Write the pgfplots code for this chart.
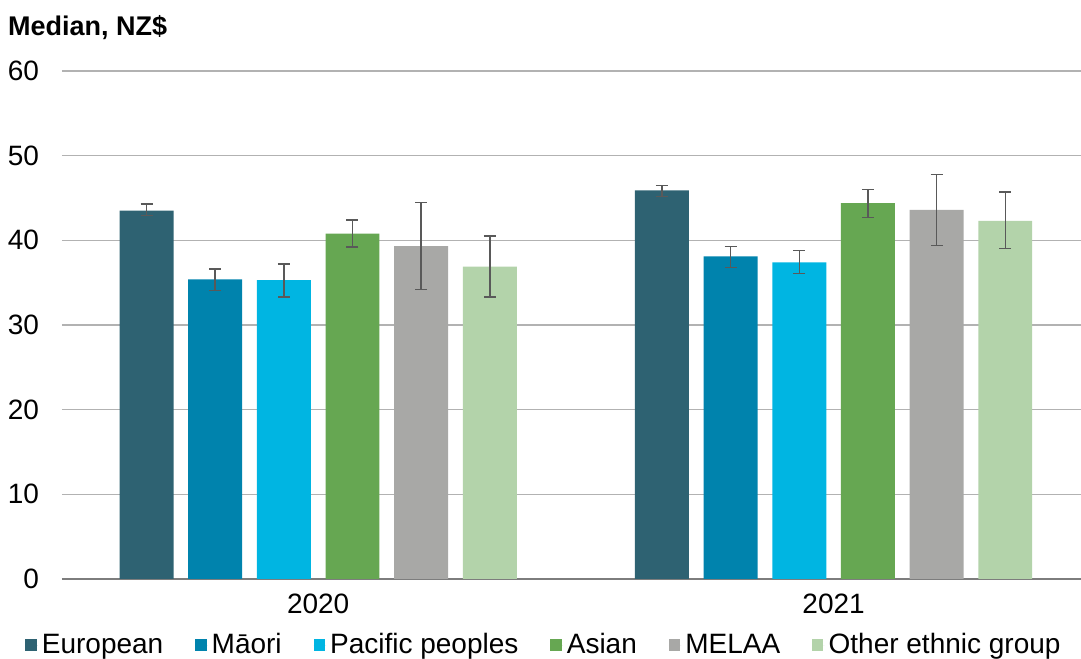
\documentclass[border=0pt]{standalone}
\usepackage{fontspec}
\setmainfont{Liberation Sans}
\usepackage{pgfplots}
\pgfplotsset{compat=1.18}
\definecolor{cEur}{RGB}{46,98,114}
\definecolor{cMao}{RGB}{0,131,173}
\definecolor{cPac}{RGB}{0,181,226}
\definecolor{cAsi}{RGB}{102,167,82}
\definecolor{cMel}{RGB}{168,168,166}
\definecolor{cOth}{RGB}{179,211,170}
\definecolor{cGrid}{RGB}{178,178,178}
\definecolor{cErr}{RGB}{89,89,89}
\begin{document}
\begin{tikzpicture}
\begin{axis}[
  scale only axis,
  width=509.5pt, height=254pt,
  ybar, bar width=0.1047,
  xmin=-0.497, xmax=1.48,
  ymin=0, ymax=60,
  ytick={0,10,...,60},
  xtick={0,1}, xticklabels={2020,2021},
  major tick length=0pt,
  axis x line*=bottom, axis y line*=left,
  y axis line style={draw=none},
  x axis line style={draw=cGrid!70!black, line width=0.8pt},
  ymajorgrids, grid style={cGrid, line width=0.8pt},
  tick label style={font=\fontsize{14}{16}\selectfont},
  /pgf/number format/assume math mode=true,
  yticklabel style={xshift=-8pt},
  xticklabel style={yshift=-4pt},
  clip=false,
  legend columns=6,
  legend style={draw=none, fill=none, font=\fontsize{14}{16}\selectfont,
    at={(0.474,-0.130)}, anchor=center,
    /tikz/every even column/.append style={column sep=14pt}},
  legend image code/.code={\fill[#1] (0pt,-2.8pt) rectangle (5.6pt,2.8pt); \path (0pt,0pt) -- (6.2pt,0pt);},
  error bars/y dir=both, error bars/y explicit,
  error bars/error bar style={cErr, line width=0.7pt},
  error bars/error mark options={rotate=90, cErr, mark size=3pt, line width=0.7pt},
]
\addplot[fill=cEur, draw=none, bar shift=-0.333] coordinates {(0,43.5) += (0,0.8) -= (0,0.6) (1,45.9) += (0,0.6) -= (0,0.7)};
\addlegendentry{European}
\addplot[fill=cMao, draw=none, bar shift=-0.1998] coordinates {(0,35.4) += (0,1.2) -= (0,1.3) (1,38.1) += (0,1.2) -= (0,1.3)};
\addlegendentry{Māori}
\addplot[fill=cPac, draw=none, bar shift=-0.0666] coordinates {(0,35.3) += (0,1.9) -= (0,2.0) (1,37.4) += (0,1.4) -= (0,1.3)};
\addlegendentry{Pacific peoples}
\addplot[fill=cAsi, draw=none, bar shift=0.0666] coordinates {(0,40.8) += (0,1.6) -= (0,1.6) (1,44.4) += (0,1.6) -= (0,1.7)};
\addlegendentry{Asian}
\addplot[fill=cMel, draw=none, bar shift=0.1998] coordinates {(0,39.3) += (0,5.2) -= (0,5.1) (1,43.6) += (0,4.2) -= (0,4.2)};
\addlegendentry{MELAA}
\addplot[fill=cOth, draw=none, bar shift=0.333] coordinates {(0,36.9) += (0,3.6) -= (0,3.6) (1,42.3) += (0,3.4) -= (0,3.3)};
\addlegendentry{Other ethnic group}
\node[anchor=west, font=\bfseries\fontsize{13.5}{16}\selectfont] at ([xshift=-30.5pt,yshift=21.5pt]rel axis cs:0,1) {Median, NZ\$};
\path ([xshift=-31pt,yshift=-40pt]rel axis cs:0,0) coordinate (bl);
\path ([yshift=35.5pt]rel axis cs:1,1) coordinate (tr);
\end{axis}
\pgfresetboundingbox
\path (bl) rectangle (tr);
\end{tikzpicture}
\end{document}
